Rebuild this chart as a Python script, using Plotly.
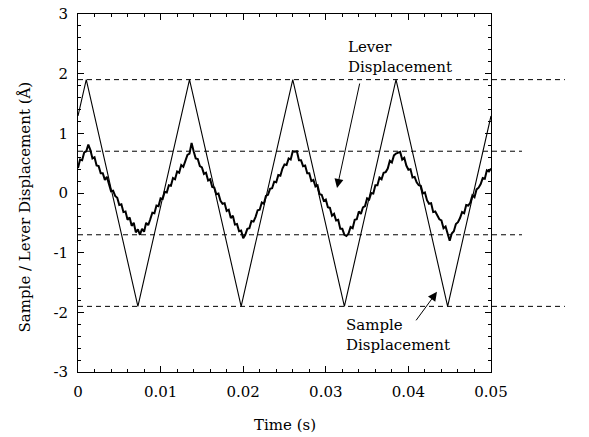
import plotly.graph_objects as go

# ---- data ----
t_step = 0.00025  # sampling interval of the traces (s)

sample_disp = [
    1.292, 1.444, 1.596, 1.748, 1.9, 1.748, 1.596, 1.444, 1.292, 1.14,
    0.988, 0.836, 0.684, 0.532, 0.38, 0.228, 0.076, -0.076, -0.228, -0.38,
    -0.532, -0.684, -0.836, -0.988, -1.14, -1.292, -1.444, -1.596, -1.748, -1.9,
    -1.748, -1.596, -1.444, -1.292, -1.14, -0.988, -0.836, -0.684, -0.532, -0.38,
    -0.228, -0.076, 0.076, 0.228, 0.38, 0.532, 0.684, 0.836, 0.988, 1.14,
    1.292, 1.444, 1.596, 1.748, 1.9, 1.748, 1.596, 1.444, 1.292, 1.14,
    0.988, 0.836, 0.684, 0.532, 0.38, 0.228, 0.076, -0.076, -0.228, -0.38,
    -0.532, -0.684, -0.836, -0.988, -1.14, -1.292, -1.444, -1.596, -1.748, -1.9,
    -1.748, -1.596, -1.444, -1.292, -1.14, -0.988, -0.836, -0.684, -0.532, -0.38,
    -0.228, -0.076, 0.076, 0.228, 0.38, 0.532, 0.684, 0.836, 0.988, 1.14,
    1.292, 1.444, 1.596, 1.748, 1.9, 1.748, 1.596, 1.444, 1.292, 1.14,
    0.988, 0.836, 0.684, 0.532, 0.38, 0.228, 0.076, -0.076, -0.228, -0.38,
    -0.532, -0.684, -0.836, -0.988, -1.14, -1.292, -1.444, -1.596, -1.748, -1.9,
    -1.748, -1.596, -1.444, -1.292, -1.14, -0.988, -0.836, -0.684, -0.532, -0.38,
    -0.228, -0.076, 0.076, 0.228, 0.38, 0.532, 0.684, 0.836, 0.988, 1.14,
    1.292, 1.444, 1.596, 1.748, 1.9, 1.748, 1.596, 1.444, 1.292, 1.14,
    0.988, 0.836, 0.684, 0.532, 0.38, 0.228, 0.076, -0.076, -0.228, -0.38,
    -0.532, -0.684, -0.836, -0.988, -1.14, -1.292, -1.444, -1.596, -1.748, -1.9,
    -1.748, -1.596, -1.444, -1.292, -1.14, -0.988, -0.836, -0.684, -0.532, -0.38,
    -0.228, -0.076, 0.076, 0.228, 0.38, 0.532, 0.684, 0.836, 0.988, 1.14,
    1.292,
]

lever_disp = [
    0.42, 0.56, 0.55, 0.68, 0.70, 0.81, 0.72, 0.58, 0.60, 0.46,
    0.45, 0.33, 0.33, 0.22, 0.27, 0.14, 0.03, 0.04, -0.05, -0.08,
    -0.20, -0.19, -0.32, -0.31, -0.45, -0.41, -0.55, -0.50, -0.66, -0.61,
    -0.70, -0.60, -0.65, -0.50, -0.54, -0.44, -0.33, -0.34, -0.21, -0.22,
    -0.09, -0.10, 0.02, 0.01, 0.13, 0.12, 0.25, 0.23, 0.36, 0.34,
    0.47, 0.44, 0.55, 0.64, 0.66, 0.84, 0.70, 0.58, 0.57, 0.45,
    0.43, 0.32, 0.34, 0.21, 0.23, 0.10, 0.09, -0.02, -0.01, -0.13,
    -0.18, -0.17, -0.30, -0.28, -0.42, -0.38, -0.53, -0.52, -0.64, -0.63,
    -0.76, -0.70, -0.60, -0.59, -0.47, -0.48, -0.40, -0.29, -0.28, -0.16,
    -0.18, -0.05, -0.03, 0.07, 0.08, 0.19, 0.18, 0.30, 0.29, 0.41,
    0.48, 0.47, 0.58, 0.56, 0.70, 0.69, 0.70, 0.55, 0.55, 0.45,
    0.46, 0.33, 0.33, 0.20, 0.22, 0.11, 0.13, -0.02, -0.03, -0.13,
    -0.11, -0.24, -0.25, -0.38, -0.35, -0.46, -0.45, -0.60, -0.60, -0.70,
    -0.72, -0.68, -0.57, -0.59, -0.45, -0.44, -0.31, -0.35, -0.24, -0.22,
    -0.09, -0.11, 0.00, -0.01, 0.13, 0.13, 0.26, 0.23, 0.34, 0.35,
    0.41, 0.54, 0.51, 0.63, 0.66, 0.67, 0.69, 0.56, 0.59, 0.46,
    0.39, 0.40, 0.26, 0.27, 0.18, 0.13, 0.12, -0.01, 0.01, -0.12,
    -0.18, -0.17, -0.32, -0.31, -0.39, -0.44, -0.46, -0.59, -0.56, -0.69,
    -0.80, -0.68, -0.64, -0.52, -0.49, -0.42, -0.32, -0.34, -0.20, -0.21,
    -0.16, -0.04, -0.07, 0.06, 0.09, 0.15, 0.25, 0.24, 0.38, 0.36,
    0.41,
]

time_s = [i * t_step for i in range(len(sample_disp))]

ref_levels_outer = [1.9, -1.9]   # sample amplitude (3.8 Å peak-to-peak)
ref_levels_inner = [0.7, -0.7]   # lever amplitude (1.4 Å peak-to-peak)

x_tick_vals = [0, 0.01, 0.02, 0.03, 0.04, 0.05]
x_tick_text = ["0", "0.01", "0.02", "0.03", "0.04", "0.05"]
y_tick_vals = [-3, -2, -1, 0, 1, 2, 3]
y_tick_text = ["-3", "-2", "-1", "0", "1", "2", "3"]

FONT = "DejaVu Serif"

fig = go.Figure()
fig.add_trace(go.Scatter(x=time_s, y=sample_disp, mode="lines",
                         line=dict(color="black", width=1.1),
                         name="Sample Displacement", showlegend=False))
fig.add_trace(go.Scatter(x=time_s, y=lever_disp, mode="lines",
                         line=dict(color="black", width=2),
                         name="Lever Displacement", showlegend=False))

shapes = []
for v in ref_levels_outer:
    shapes.append(dict(type="line", xref="paper", yref="y", x0=0, x1=1.179, y0=v, y1=v,
                       line=dict(color="black", width=1, dash="5px,4px")))
for v in ref_levels_inner:
    shapes.append(dict(type="line", xref="paper", yref="y", x0=0, x1=1.075, y0=v, y1=v,
                       line=dict(color="black", width=1, dash="5px,4px")))

annotations = []
# double-headed span arrows
annotations.append(dict(x=0.0523, y=ref_levels_inner[1], ax=0.0523, ay=ref_levels_inner[0],
                        xref="x", yref="y", axref="x", ayref="y", text="", showarrow=True,
                        arrowhead=2, startarrowhead=2, arrowside="end+start",
                        arrowsize=1.8, startarrowsize=1.8, arrowwidth=1, arrowcolor="black"))
annotations.append(dict(x=0.05763, y=ref_levels_outer[1], ax=0.05763, ay=ref_levels_outer[0],
                        xref="x", yref="y", axref="x", ayref="y", text="", showarrow=True,
                        arrowhead=2, startarrowhead=2, arrowside="end+start",
                        arrowsize=1.8, startarrowsize=1.8, arrowwidth=1, arrowcolor="black"))
annotations.append(dict(x=0.05351, y=-0.90, xref="x", yref="y", xanchor="center",
                        text="1.4Å", showarrow=False,
                        font=dict(family=FONT, size=15, color="black")))
annotations.append(dict(x=0.05823, y=-2.13, xref="x", yref="y", xanchor="center",
                        text="3.8Å", showarrow=False,
                        font=dict(family=FONT, size=15, color="black")))
# label arrows
annotations.append(dict(x=0.03136, y=0.085, ax=0.03414, ay=1.86, xref="x", yref="y",
                        axref="x", ayref="y", text="", showarrow=True, arrowhead=2,
                        arrowsize=1.8, arrowwidth=1, arrowcolor="black"))
annotations.append(dict(x=0.04346, y=-1.657, ax=0.0408, ay=-2.159, xref="x", yref="y",
                        axref="x", ayref="y", text="", showarrow=True, arrowhead=2,
                        arrowsize=1.8, arrowwidth=1, arrowcolor="black"))
annotations.append(dict(x=0.0325, y=2.28, xref="x", yref="y", xanchor="left",
                        text="Lever<br>Displacement", align="left", showarrow=False,
                        font=dict(family=FONT, size=15, color="black")))
annotations.append(dict(x=0.0322, y=-2.38, xref="x", yref="y", xanchor="left",
                        text="Sample<br>Displacement", align="left", showarrow=False,
                        font=dict(family=FONT, size=15, color="black")))
# axis titles
annotations.append(dict(x=0.5, y=-0.117, xref="paper", yref="paper", xanchor="center",
                        yanchor="top", text="Time (s)", showarrow=False,
                        font=dict(family=FONT, size=15, color="black")))
annotations.append(dict(x=-0.128, y=0.46, xref="paper", yref="paper", xanchor="center",
                        yanchor="middle", text="Sample / Lever Displacement (Å)",
                        textangle=-90, showarrow=False,
                        font=dict(family=FONT, size=15, color="black")))

axis_common = dict(showgrid=False, zeroline=False, showline=True, linecolor="black",
                   linewidth=1, mirror="allticks", ticks="inside", ticklen=6,
                   tickcolor="black", tickwidth=1, automargin=False,
                   tickfont=dict(family=FONT, size=15, color="black"))

fig.update_layout(
    width=589, height=437,
    margin=dict(l=78, r=98, t=14, b=65, autoexpand=False),
    paper_bgcolor="white", plot_bgcolor="white",
    shapes=shapes, annotations=annotations,
    xaxis=dict(range=[0, 0.05], tickvals=x_tick_vals, ticktext=x_tick_text,
               ticklabelstandoff=6,
               minor=dict(dtick=0.002, ticks="inside", ticklen=3, tickcolor="black"),
               **axis_common),
    yaxis=dict(range=[-3, 3], tickvals=y_tick_vals, ticktext=y_tick_text,
               ticklabelstandoff=6,
               minor=dict(dtick=0.2, ticks="inside", ticklen=3, tickcolor="black"),
               **axis_common),
)

fig.write_html("out.html", config={"displayModeBar": False},
               post_script="document.body.style.margin='0';document.body.style.overflow='hidden';")
